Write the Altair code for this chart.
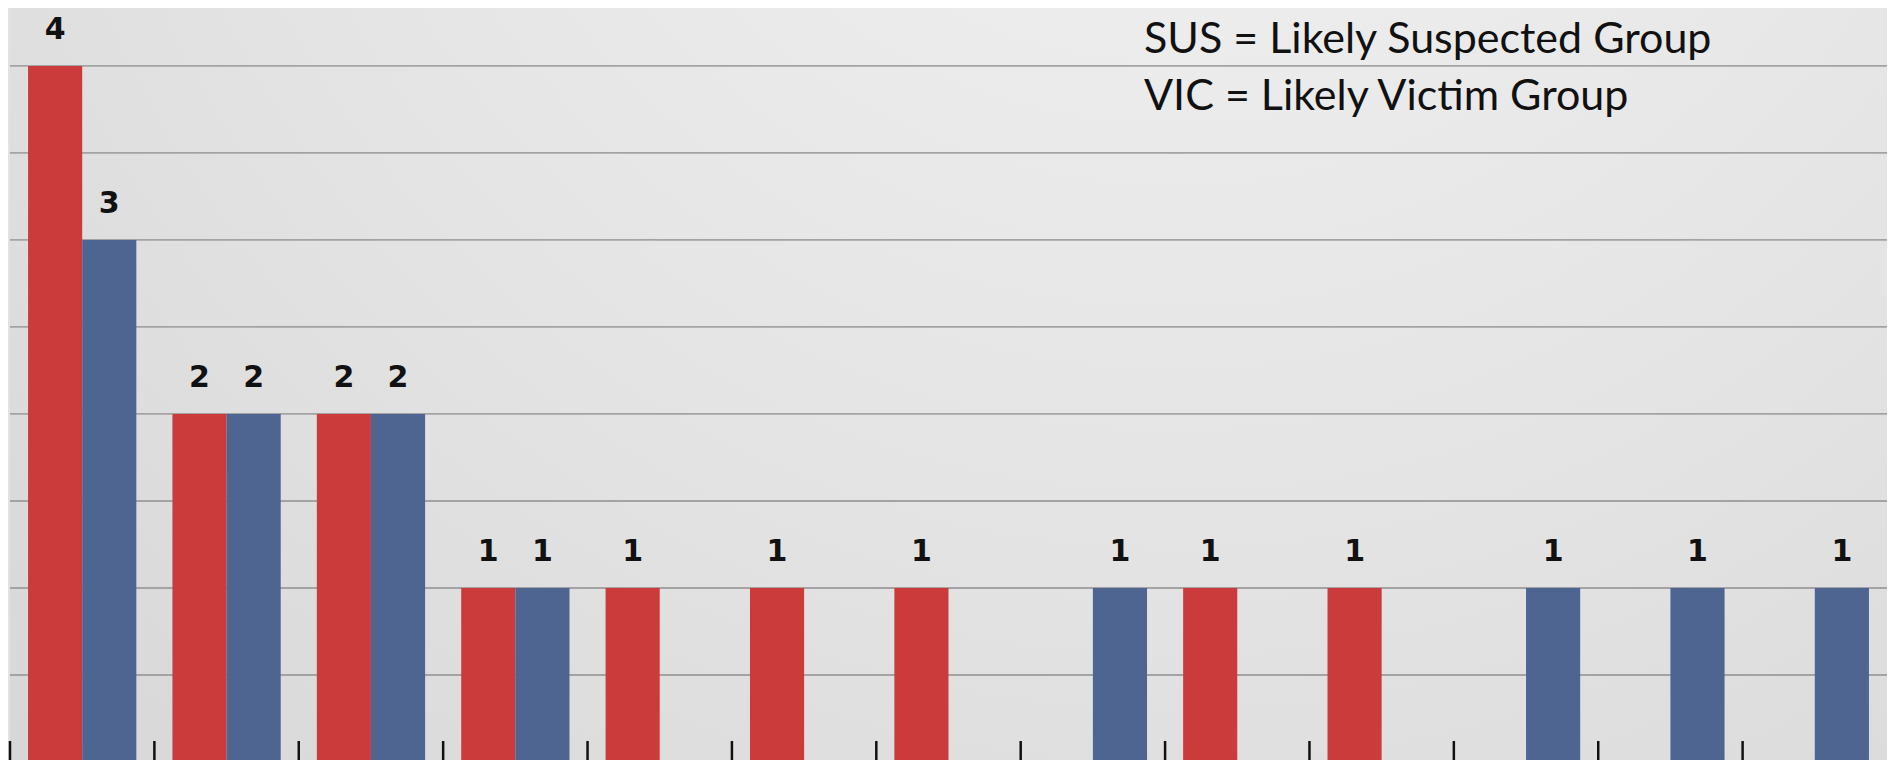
import altair as alt
import pandas as pd

groups = ["1", "2", "3", "4", "5", "6", "7", "8", "9", "10", "11", "12", "13"]
series = ["SUS", "VIC"]
sus_values = [4, 2, 2, 1, 1, 1, 1, 0, 1, 1, 0, 0, 0]
vic_values = [3, 2, 2, 1, 0, 0, 0, 1, 0, 0, 1, 1, 1]
grid_values = [0.5, 1.0, 1.5, 2.0, 2.5, 3.0, 3.5, 4.0]
legend_lines = ["SUS = Likely Suspected Group", "VIC = Likely Victim Group"]
series_colors = ["#cc3b3b", "#4e6491"]

rows = []
for g, s, v in zip(groups, sus_values, vic_values):
    rows.append({"group": g, "series": "SUS", "value": s})
    rows.append({"group": g, "series": "VIC", "value": v})
df = pd.DataFrame(rows)

W, H = 1877, 754
y_scale = alt.Scale(domain=[0, 4.333], nice=False, zero=True)
x_enc = alt.X("group:N", sort=groups, axis=None,
              scale=alt.Scale(paddingInner=0.25, paddingOuter=0.125))
xoff = alt.XOffset("series:N", sort=series, scale=alt.Scale(paddingInner=0, paddingOuter=0))
color_enc = alt.Color("series:N", sort=series, legend=None,
                      scale=alt.Scale(domain=series, range=series_colors))

bg = alt.Chart(pd.DataFrame({"a": [0]})).mark_rect(
    fill=alt.RadialGradient(
        gradient="radial",
        x1=0.62, y1=0.05, r1=0.0,
        x2=0.62, y2=0.05, r2=0.95,
        stops=[alt.GradientStop(color="#f4f4f4", offset=0),
               alt.GradientStop(color="#e4e4e4", offset=0.55),
               alt.GradientStop(color="#d5d5d5", offset=1)],
    )
).encode(x=alt.value(0), x2=alt.value(W), y=alt.value(0), y2=alt.value(H))

grid = alt.Chart(pd.DataFrame({"v": grid_values})).mark_rule(
    color="#a3a3a3", strokeWidth=1.8
).encode(y=alt.Y("v:Q", scale=y_scale, axis=None))

bars = alt.Chart(df).mark_bar().encode(
    x=x_enc, xOffset=xoff,
    y=alt.Y("value:Q", scale=y_scale, axis=None),
    color=color_enc,
)

labels = alt.Chart(df).transform_filter("datum.value > 0").mark_text(
    font="DejaVu Sans", fontWeight="bold", fontSize=30, color="#111111",
    baseline="alphabetic", align="center", dy=-27,
).encode(
    x=x_enc, xOffset=xoff,
    y=alt.Y("value:Q", scale=y_scale, axis=None),
    text=alt.Text("value:Q"),
)

ticks = alt.Chart(pd.DataFrame({"group": groups})).mark_rule(
    color="#111111", strokeWidth=2.5
).encode(
    x=alt.X("group:N", sort=groups, axis=None, bandPosition=0,
            scale=alt.Scale(paddingInner=0, paddingOuter=0)),
    y=alt.value(H),
    y2=alt.value(H - 21),
)

legend_text = alt.Chart(pd.DataFrame({"a": [0]})).mark_text(
    text=legend_lines, font="Lato", fontSize=43, color="#111111",
    align="left", baseline="alphabetic", lineHeight=57,
).encode(x=alt.value(1134), y=alt.value(45))

chart = alt.layer(bg, grid, bars, labels, ticks, legend_text).resolve_scale(
    x="independent"
).properties(
    width=W, height=H,
    background="#e2e2e2",
    padding={"left": 2, "top": 0, "right": 0, "bottom": 0},
    autosize=alt.AutoSizeParams(type="none"),
).configure_view(stroke=None)

chart.save("out.html", embed_options={"renderer": "svg", "actions": False})
